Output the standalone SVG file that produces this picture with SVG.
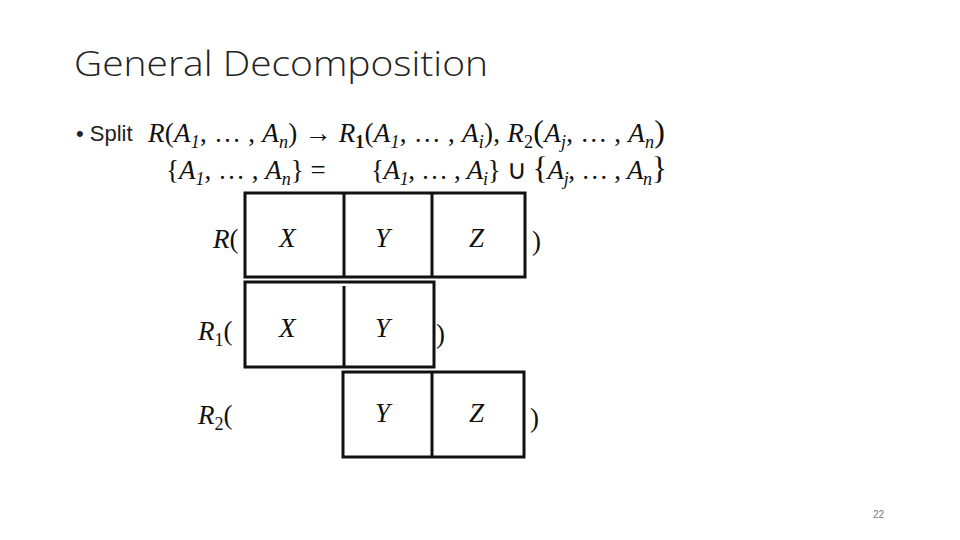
<svg xmlns="http://www.w3.org/2000/svg" width="960" height="540" viewBox="0 0 960 540">
<style>
.t{font-family:"Open Sans","Liberation Sans",sans-serif;font-weight:300;font-size:35px;fill:#222}
.m{font-family:"Liberation Serif",serif;font-style:italic;font-size:27px;fill:#111}
.n{font-family:"Liberation Serif",serif;font-size:27px;fill:#111}
.b{fill:none;stroke:#111;stroke-width:3}
.s{font-size:18px}
</style>
<rect width="960" height="540" fill="#fff"/>
<text class="t" x="74" y="76" textLength="414" lengthAdjust="spacingAndGlyphs">General Decomposition</text>
<text x="76" y="141" font-family="Liberation Sans,sans-serif" font-size="22" fill="#222">• Split</text>
<text class="m" x="148" y="142" textLength="517" lengthAdjust="spacing">R<tspan font-style="normal">(</tspan>A<tspan class="s" dy="6">1</tspan><tspan dy="-6" font-style="normal">, … , </tspan>A<tspan class="s" dy="6">n</tspan><tspan dy="-6" font-style="normal">) → </tspan>R<tspan class="s" dy="6" font-weight="bold" font-style="normal">1</tspan><tspan dy="-6" font-style="normal">(</tspan>A<tspan class="s" dy="6">1</tspan><tspan dy="-6" font-style="normal">, … , </tspan>A<tspan class="s" dy="6">i</tspan><tspan dy="-6" font-style="normal">), </tspan>R<tspan class="s" dy="6" font-style="normal">2</tspan><tspan dy="-6" font-style="normal" font-size="32">(</tspan>A<tspan class="s" dy="6">j</tspan><tspan dy="-6" font-style="normal">, … , </tspan>A<tspan class="s" dy="6">n</tspan><tspan dy="-6" font-style="normal" font-size="32">)</tspan></text>
<text class="m" x="166" y="179"><tspan font-style="normal">{</tspan>A<tspan class="s" dy="6">1</tspan><tspan dy="-6" font-style="normal">, … , </tspan>A<tspan class="s" dy="6">n</tspan><tspan dy="-6" font-style="normal">} =</tspan></text>
<text class="m" x="371" y="179" textLength="296" lengthAdjust="spacing"><tspan font-style="normal">{</tspan>A<tspan class="s" dy="6">1</tspan><tspan dy="-6" font-style="normal">, … , </tspan>A<tspan class="s" dy="6">i</tspan><tspan dy="-6" font-style="normal">} ∪ </tspan><tspan font-style="normal" font-size="32">{</tspan>A<tspan class="s" dy="6">j</tspan><tspan dy="-6" font-style="normal">, … , </tspan>A<tspan class="s" dy="6">n</tspan><tspan dy="-6" font-style="normal" font-size="32">}</tspan></text>
<g id="row-R">
<rect class="b" x="245" y="193" width="280" height="84"/>
<line class="b" x1="344" y1="193" x2="344" y2="277"/><line class="b" x1="432" y1="193" x2="432" y2="277"/>
<text class="m" x="213" y="248">R<tspan font-style="normal">(</tspan></text>
<text class="m" x="279" y="247">X</text><text class="m" x="375" y="247">Y</text><text class="m" x="469" y="247">Z</text>
<text class="n" x="532" y="250">)</text>
</g>
<g id="row-R1">
<rect class="b" x="245" y="282" width="189" height="85"/>
<line class="b" x1="344" y1="286" x2="344" y2="367"/>
<text class="m" x="198" y="340">R<tspan class="s" dy="6" font-style="normal">1</tspan><tspan dy="-6" font-style="normal">(</tspan></text>
<text class="m" x="279" y="337">X</text><text class="m" x="375" y="337">Y</text>
<text class="n" x="436" y="343">)</text>
</g>
<g id="row-R2">
<rect class="b" x="343" y="372" width="181" height="85"/>
<line class="b" x1="432" y1="372" x2="432" y2="457"/>
<text class="m" x="198" y="424">R<tspan class="s" dy="6" font-style="normal">2</tspan><tspan dy="-6" font-style="normal">(</tspan></text>
<text class="m" x="375" y="422">Y</text><text class="m" x="469" y="422">Z</text>
<text class="n" x="530" y="427">)</text>
</g>
<text x="873" y="518" font-family="Liberation Sans,sans-serif" font-size="10" fill="#777">22</text>
</svg>
